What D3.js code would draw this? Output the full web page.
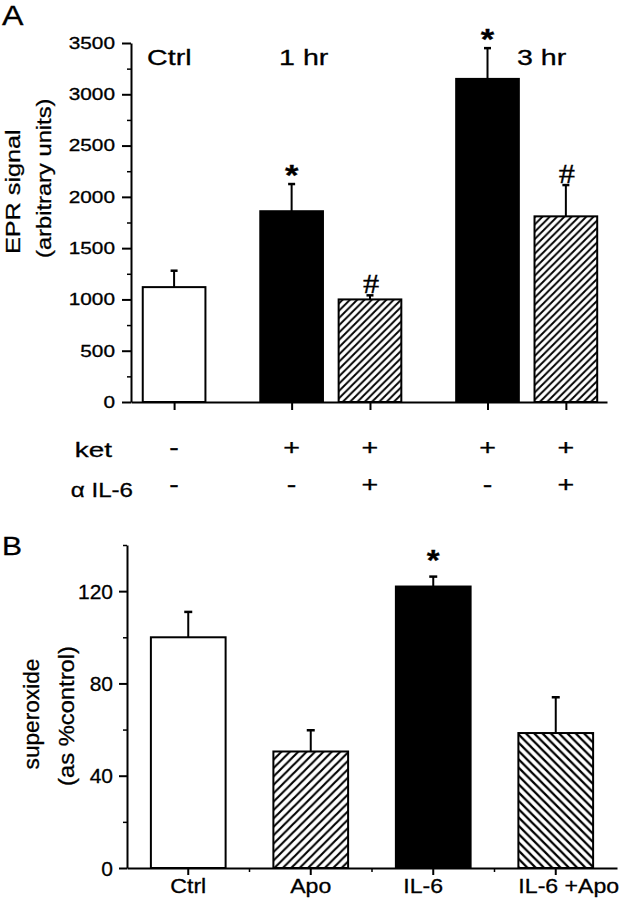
<!DOCTYPE html>
<html>
<head>
<meta charset="utf-8">
<script src="https://cdn.jsdelivr.net/npm/d3@7"></script>
<style>
  html, body { margin: 0; padding: 0; background: #fff; }
  svg { display: block; }
  text { font-family: "Liberation Sans", Arial, Helvetica, sans-serif; fill: #000; stroke: #000; stroke-width: 0.3; }
</style>
</head>
<body>
<svg id="chart" width="621" height="899"></svg>
<script>
// ---------- DATA (panel A) ----------
const catsA   = ["Ctrl", "ket 1 hr", "ket + αIL-6 1 hr", "ket 3 hr", "ket + αIL-6 3 hr"];
const slotsA  = [0, 3, 5, 8, 10];
const typesA  = ["open", "solid", "hatchR", "solid", "hatchR"];
const valuesA = [1120, 1860, 1000, 3150, 1810];
const errorsA = [160, 265, 40, 300, 305];
const marksA  = ["", "*", "#", "*", "#"];
const ketRow  = ["-", "+", "+", "+", "+"];
const il6Row  = ["-", "-", "+", "-", "+"];
const groupLabelsA = ["Ctrl", "1 hr", "3 hr"];
const groupSlotsA  = [-0.69, 2.68, 8.75];
const yTicksA = [0, 500, 1000, 1500, 2000, 2500, 3000, 3500];
const yMinorA = [250, 750, 1250, 1750, 2250, 2750, 3250];

// ---------- DATA (panel B) ----------
const catsB   = ["Ctrl", "Apo", "IL-6", "IL-6 +Apo"];
const typesB  = ["open", "hatchR", "solid", "hatchL"];
const valuesB = [100, 50.5, 122, 58.5];
const errorsB = [11, 9.2, 4.3, 15.5];
const marksB  = ["", "", "*", ""];
const yTicksB = [0, 40, 80, 120];
const yMinorB = [20, 60, 100, 140];

// ---------- helpers ----------
const svg = d3.select("#chart");
const SANS = '"Liberation Sans", Arial, Helvetica, sans-serif';
const SERIF = '"Liberation Serif", "Times New Roman", serif';

function txt(g, x, y, str, o) {
  o = Object.assign({size: 16, anchor: "start", sx: 1, rot: 0, family: SANS, weight: "normal"}, o || {});
  return g.append("text")
    .attr("transform", `translate(${x},${y}) rotate(${o.rot}) scale(${o.sx},1)`)
    .attr("text-anchor", o.anchor)
    .attr("font-size", o.size)
    .attr("font-weight", o.weight)
    .style("font-family", o.family)
    .text(str);
}

// hatch patterns
const defs = svg.append("defs");
function hatch(id, s, dir, w) {
  const p = defs.append("pattern").attr("id", id).attr("patternUnits", "userSpaceOnUse")
    .attr("width", s).attr("height", s);
  p.append("rect").attr("width", s).attr("height", s).attr("fill", "#fff");
  const d = dir === "R"
    ? `M${-s/2},${s/2} L${s/2},${-s/2} M0,${s} L${s},0 M${s/2},${1.5*s} L${1.5*s},${s/2}`
    : `M${-s/2},${s/2} L${s/2},${1.5*s} M0,0 L${s},${s} M${s/2},${-s/2} L${1.5*s},${s/2}`;
  p.append("path").attr("d", d).attr("stroke", "#000").attr("stroke-width", w).attr("fill", "none");
}
hatch("hA", 7.3, "R", 1.9);
hatch("hBR", 8.4, "R", 2.1);
hatch("hBL", 8.3, "L", 2.2);

function fillFor(t, panel) {
  if (t === "open") return "#fff";
  if (t === "solid") return "#000";
  if (t === "hatchR") return panel === "A" ? "url(#hA)" : "url(#hBR)";
  return "url(#hBL)";
}

// =================== PANEL A ===================
const gA = svg.append("g");
const xA = d3.scaleLinear().domain([-1.1, 11.05]).range([131, 607]);
const yA = d3.scaleLinear().domain([0, 3500]).range([402, 43]);
const bwA = (xA(1.6) - xA(0));

// y axis
gA.append("g").attr("transform", `translate(${xA(-1.1)},0)`)
  .call(d3.axisLeft(yA).tickValues(yTicksA).tickSize(9).tickSizeOuter(0).tickFormat(""))
  .call(g => g.selectAll("path,line").attr("stroke", "#000").attr("stroke-width", 2));
gA.append("g").attr("transform", `translate(${xA(-1.1)},0)`)
  .call(d3.axisLeft(yA).tickValues(yMinorA).tickSize(4).tickSizeOuter(0).tickFormat(""))
  .call(g => g.select(".domain").remove())
  .call(g => g.selectAll("line").attr("stroke", "#000").attr("stroke-width", 1.5));
yTicksA.forEach(v => txt(gA, 115, yA(v) + 5.8, String(v), {size: 16, anchor: "end", sx: 1.3}));

// x axis
gA.append("g").attr("transform", `translate(0,${yA(0)})`)
  .call(d3.axisBottom(xA).tickValues(slotsA).tickSize(8).tickSizeOuter(0).tickFormat(""))
  .call(g => g.selectAll("path,line").attr("stroke", "#000").attr("stroke-width", 2));

// bars
gA.selectAll("rect.bar").data(catsA).join("rect").attr("class", "bar")
  .attr("x", (d, i) => xA(slotsA[i]) - bwA / 2)
  .attr("y", (d, i) => yA(valuesA[i]))
  .attr("width", bwA)
  .attr("height", (d, i) => yA(0) - yA(valuesA[i]))
  .attr("fill", (d, i) => fillFor(typesA[i], "A"))
  .attr("stroke", "#000").attr("stroke-width", 2);

// error bars
catsA.forEach((c, i) => {
  const x = xA(slotsA[i]), y0 = yA(valuesA[i]), y1 = yA(valuesA[i] + errorsA[i]);
  gA.append("line").attr("x1", x).attr("x2", x).attr("y1", y0).attr("y2", y1)
    .attr("stroke", "#000").attr("stroke-width", 2);
  gA.append("line").attr("x1", x - 3.5).attr("x2", x + 3.5).attr("y1", y1).attr("y2", y1)
    .attr("stroke", "#000").attr("stroke-width", 2.5);
  if (marksA[i] === "*") txt(gA, x, y1 + 1, "*", {size: 30, anchor: "middle", sx: 1.15, weight: "bold"});
  if (marksA[i] === "#") txt(gA, x + 1, y1 - 2, "#", {size: 27, anchor: "middle", sx: 1.2, family: SERIF});
});

// group labels
groupLabelsA.forEach((l, i) => txt(gA, xA(groupSlotsA[i]), 65, l, {size: 22, sx: 1.3}));

// rows of +/-
txt(gA, 112, 457, "ket", {size: 21, anchor: "end", sx: 1.33});
txt(gA, 133, 497, "α IL-6", {size: 21, anchor: "end", sx: 1.15});
ketRow.forEach((s, i) => txt(gA, xA(slotsA[i]), 455, s, {size: 22, anchor: "middle", sx: 1.3}));
il6Row.forEach((s, i) => txt(gA, xA(slotsA[i]), 492, s, {size: 22, anchor: "middle", sx: 1.3}));

// y label
txt(gA, 19.5, 254, "EPR signal", {size: 20.5, rot: -90, sx: 1.23});
txt(gA, 51, 258, "(arbitrary units)", {size: 21, rot: -90, sx: 1.13});

// panel letter
txt(svg, 2, 25, "A", {size: 28, sx: 1.15});

// =================== PANEL B ===================
const gB = svg.append("g");
const xB = d3.scaleBand().domain(catsB).range([127, 617]).paddingInner(0.39).paddingOuter(0.195);
const yB = d3.scaleLinear().domain([0, 140]).range([868, 545]);

gB.append("g").attr("transform", `translate(127,0)`)
  .call(d3.axisLeft(yB).tickValues(yTicksB).tickSize(8).tickSizeOuter(0).tickFormat(""))
  .call(g => g.selectAll("path,line").attr("stroke", "#000").attr("stroke-width", 2));
gB.append("g").attr("transform", `translate(127,0)`)
  .call(d3.axisLeft(yB).tickValues(yMinorB).tickSize(4).tickSizeOuter(0).tickFormat(""))
  .call(g => g.select(".domain").remove())
  .call(g => g.selectAll("line").attr("stroke", "#000").attr("stroke-width", 1.5));
yTicksB.forEach(v => txt(gB, 113, yB(v) + 7.5, String(v), {size: 21, anchor: "end", sx: 1.0}));

// x axis
const stepB = xB.step();
gB.append("g").attr("transform", `translate(0,${yB(0)})`)
  .call(d3.axisBottom(xB).tickSize(7).tickSizeOuter(0).tickFormat(""))
  .call(g => g.selectAll("path,line").attr("stroke", "#000").attr("stroke-width", 2));
const boundsB = catsB.map(c => xB(c) - stepB * xB.paddingInner() / 2).slice(1);
gB.selectAll("line.minor").data(boundsB).join("line").attr("class", "minor")
  .attr("x1", d => d).attr("x2", d => d).attr("y1", yB(0)).attr("y2", yB(0) + 4)
  .attr("stroke", "#000").attr("stroke-width", 1.5);

gB.selectAll("rect.bar").data(catsB).join("rect").attr("class", "bar")
  .attr("x", d => xB(d))
  .attr("y", (d, i) => yB(valuesB[i]))
  .attr("width", xB.bandwidth())
  .attr("height", (d, i) => yB(0) - yB(valuesB[i]))
  .attr("fill", (d, i) => fillFor(typesB[i], "B"))
  .attr("stroke", "#000").attr("stroke-width", 2);

const nudgeB = {"IL-6": -10, "IL-6 +Apo": 13};
catsB.forEach((c, i) => {
  const x = xB(c) + xB.bandwidth() / 2, y0 = yB(valuesB[i]), y1 = yB(valuesB[i] + errorsB[i]);
  gB.append("line").attr("x1", x).attr("x2", x).attr("y1", y0).attr("y2", y1)
    .attr("stroke", "#000").attr("stroke-width", 2);
  gB.append("line").attr("x1", x - 4).attr("x2", x + 4).attr("y1", y1).attr("y2", y1)
    .attr("stroke", "#000").attr("stroke-width", 2.5);
  if (marksB[i] === "*") txt(gB, x, y1 - 7, "*", {size: 30, anchor: "middle", sx: 1.1, weight: "bold"});
  txt(gB, x + (nudgeB[c] || 0), 893, c, {size: 21, anchor: "middle", sx: 1.1});
});

txt(gB, 39, 714, "superoxide", {size: 22, rot: -90, anchor: "middle", sx: 1.03});
txt(gB, 74, 716, "(as %control)", {size: 22, rot: -90, anchor: "middle", sx: 1.08});

txt(svg, 2, 555, "B", {size: 25, sx: 1.2});
</script>
</body>
</html>
